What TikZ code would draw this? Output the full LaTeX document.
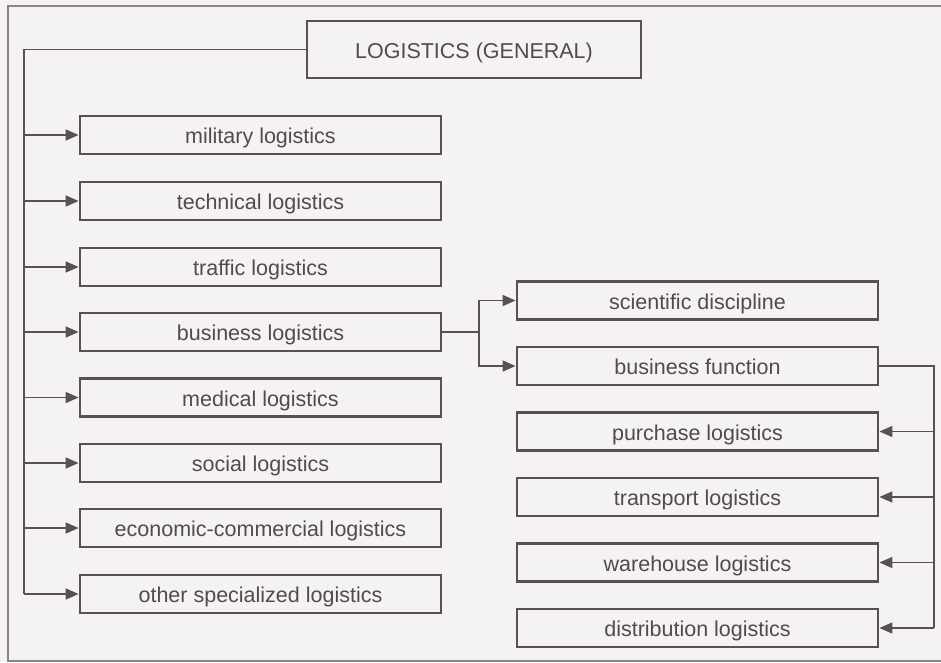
\documentclass[tikz,border=0pt]{standalone}
\usepackage{fontspec}
\setmainfont{Liberation Sans}
\usetikzlibrary{arrows.meta}
\definecolor{paper}{HTML}{F4F2F5}
\definecolor{ink}{HTML}{5A4F55}
\definecolor{txt}{HTML}{514A4F}
\definecolor{framecol}{HTML}{8C8389}
\tikzset{
  box/.style={draw=ink, line width=2.8pt, rectangle, minimum height=38pt,
    minimum width=361pt, inner sep=0pt, text=txt,
    text height=19pt, text depth=2pt,
    font=\fontsize{21.5}{25}\selectfont},
  link/.style={draw=ink, line width=1.6pt},
  arr/.style={link, -{Triangle[length=13pt,width=11pt]}},
}
\begin{document}
\begin{tikzpicture}[x=1pt, y=-1pt]
  % page area and paper tone
  \useasboundingbox (0,0) rectangle (941,662);
  \fill[paper] (0,0) rectangle (941,662);
  \begin{scope}
    \clip (0,0) rectangle (941,662);
    \draw[framecol, line width=1.4pt] (8,6) rectangle (960,661);
  \end{scope}

  % root
  \node[box, minimum width=334pt, minimum height=57pt] (gen) at (474,49.5) {LOGISTICS (GENERAL)};

  % left column
  \node[box] (mil)   at (260.5,135) {military logistics};
  \node[box] (tech)  at (260.5,201) {technical logistics};
  \node[box] (traf)  at (260.5,267) {traffic logistics};
  \node[box] (bus)   at (260.5,332) {business logistics};
  \node[box] (med)   at (260.5,397.5) {medical logistics};
  \node[box] (soc)   at (260.5,463) {social logistics};
  \node[box] (econ)  at (260.5,528) {economic-commercial logistics};
  \node[box] (other) at (260.5,594) {other specialized logistics};

  % right column
  \node[box] (sci)   at (697.5,300.5) {scientific discipline};
  \node[box] (bfun)  at (697.5,366) {business function};
  \node[box] (pur)   at (697.5,431.5) {purchase logistics};
  \node[box] (trans) at (697.5,497) {transport logistics};
  \node[box] (ware)  at (697.5,562.5) {warehouse logistics};
  \node[box] (dist)  at (697.5,628) {distribution logistics};

  % trunk from the root down the left side
  \coordinate (ltop) at (24,49.5);
  \coordinate (lbot) at (24,594);
  \draw[link] (gen.west) -- (ltop) -- (lbot);
  \foreach \n in {mil,tech,traf,bus,med,soc,econ,other}
    \draw[arr] (ltop |- \n.west) -- (\n.west);

  % business logistics split
  \coordinate (bsplit) at (479,332);
  \draw[link] (bus.east) -- (bsplit);
  \draw[arr] (bsplit) |- (sci.west);
  \draw[arr] (bsplit) |- (bfun.west);

  % business function branches
  \coordinate (rtop) at (934,366);
  \draw[link] (bfun.east) -- (rtop) -- (rtop |- dist.east);
  \foreach \n in {pur,trans,ware,dist}
    \draw[arr] (rtop |- \n.east) -- (\n.east);
\end{tikzpicture}
\end{document}
